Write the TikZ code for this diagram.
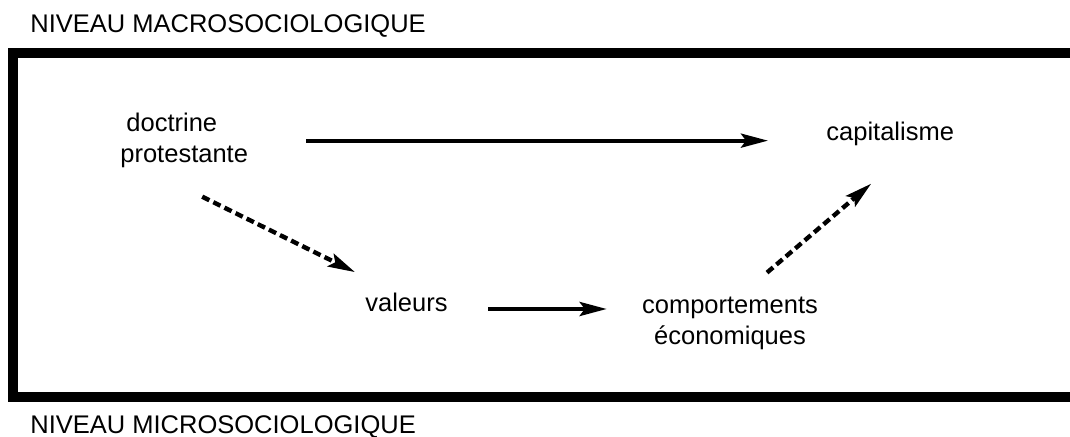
\documentclass[tikz,border=0pt]{standalone}
\usepackage{fontspec}
\setmainfont{Liberation Sans}
\usetikzlibrary{arrows.meta}

\tikzset{
  etiquette/.style={inner sep=0pt, font=\fontsize{12.75}{15.75}\selectfont},
  fleche/.style={line width=2pt, -{Stealth[length=13.5pt,width=7pt,inset=2.5pt]}},
  pointille/.style={fleche, line width=2.2pt, dash pattern=on 4pt off 2.2pt}
}

\begin{document}
\begin{tikzpicture}[x=0.5pt,y=-0.5pt]
	\useasboundingbox (0,0) rectangle (1070,437);
	\clip (0,0) rectangle (1070,437);
	\draw[line width=5pt] (13,53) rectangle (1090,397);
	\node[etiquette, anchor=base west] (macro) at (30,33) {NIVEAU MACROSOCIOLOGIQUE};
	\node[etiquette, anchor=base west] (micro) at (30,434) {NIVEAU MICROSOCIOLOGIQUE};
		\node[etiquette, anchor=base west, align=left] (doctrine) at (120,163) {\hspace*{3pt}doctrine\\protestante};
		\node[etiquette, anchor=base west] (capitalisme) at (826,141) {capitalisme};
			\node[etiquette, anchor=base west] (valeurs) at (365,312) {valeurs};
			\node[etiquette, anchor=base, align=center] (comportements) at (730,345) {comportements\\économiques};
	\draw[fleche, shorten <=29pt, shorten >=29pt] (doctrine.east) -- (doctrine.east -| capitalisme.west);
	\draw[pointille] ([shift={(18,28)}]doctrine.south) -- ([shift={(-10,-21)}]valeurs.north west);
	\draw[fleche, shorten <=20pt, shorten >=17.5pt] ([shift={(0,-3)}]valeurs.base east) -- ([shift={(0,-3)}]valeurs.base east -| comportements.west);
	\draw[pointille] ([shift={(37,-24)}]comportements.north) -- ([shift={(-19,37)}]capitalisme.south);
\end{tikzpicture}
\end{document}
